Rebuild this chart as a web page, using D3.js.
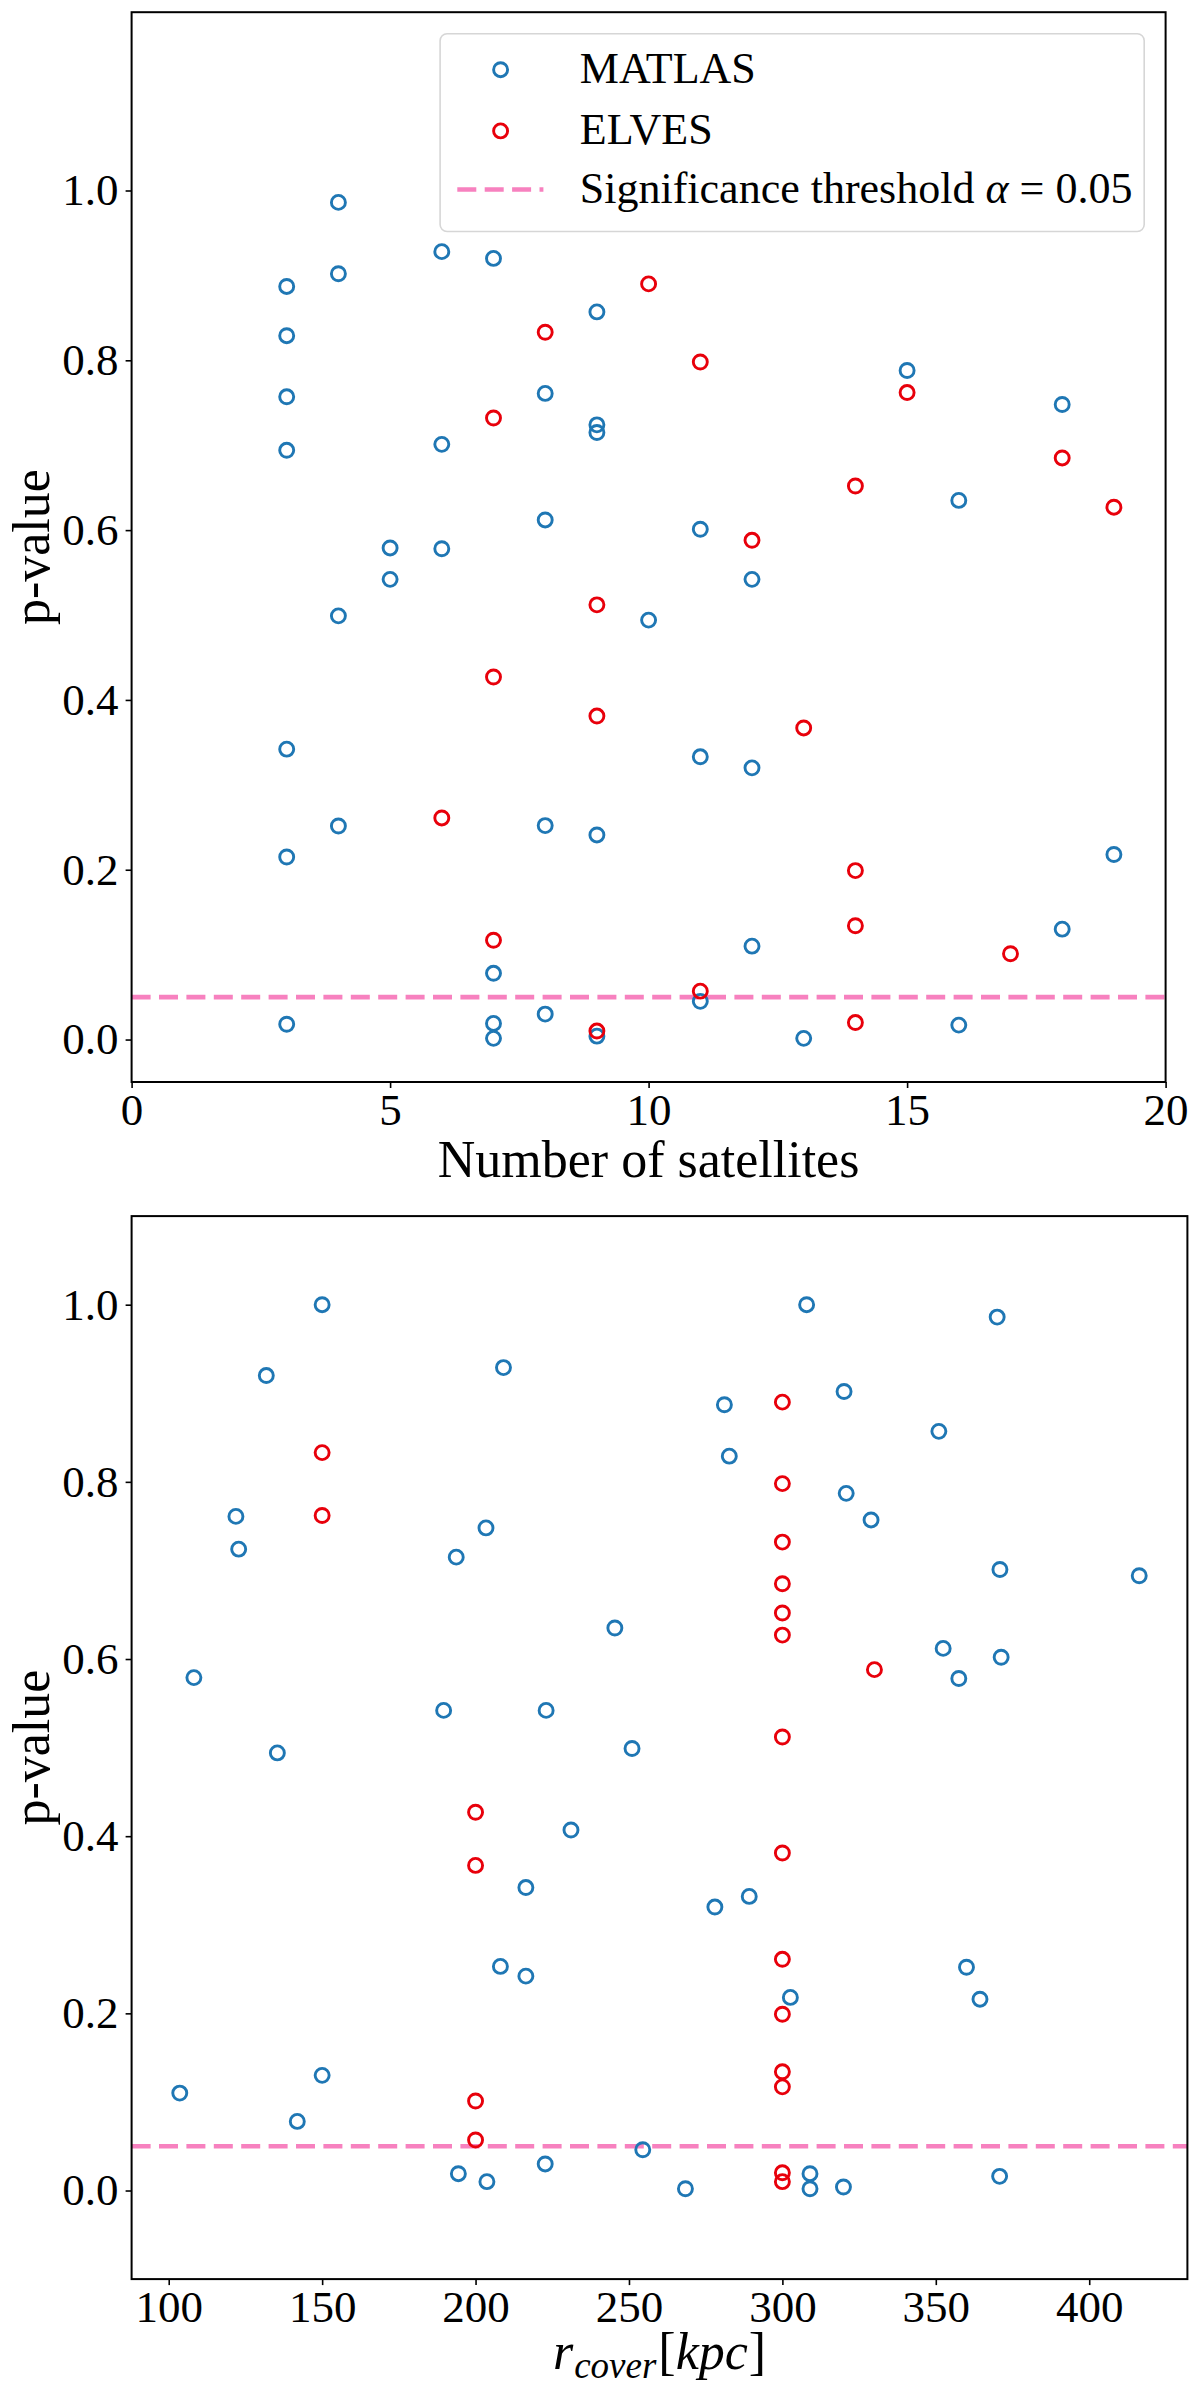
<!DOCTYPE html>
<html>
<head>
<meta charset="utf-8">
<script src="https://cdn.jsdelivr.net/npm/d3@7"></script>
<style>
  html, body { margin: 0; padding: 0; background: #fff; }
  svg { display: block; }
  text { font-family: "Liberation Serif", "Times New Roman", serif; fill: #000; }
</style>
</head>
<body>
<svg id="chart" width="1200" height="2398"></svg>
<script>
// ---------- Data ----------
// Top panel: number of satellites vs p-value
const topMatlasN = [3,3,3,3,3,3,3, 4,4,4,4, 5,5, 6,6,6, 7,7,7,7, 8,8,8,8, 9,9,9,9,9, 10, 11,11,11, 12,12,12, 13, 15, 16,16, 18,18, 19];
const topMatlasP = [0.887,0.829,0.757,0.694,0.342,0.215,0.018, 0.986,0.902,0.499,0.2515, 0.579,0.542, 0.928,0.701,0.578, 0.920,0.078,0.019,0.0014, 0.761,0.612,0.252,0.030, 0.857,0.724,0.715,0.241,0.004, 0.494, 0.601,0.333,0.045, 0.542,0.320,0.110, 0.0014, 0.788, 0.635,0.017, 0.748,0.130, 0.218];
const topElvesN = [6, 7,7,7, 8, 9,9,9, 10, 11,11, 12, 13, 14,14,14,14, 15, 17, 18, 19];
const topElvesP = [0.261, 0.732,0.427,0.117, 0.833, 0.512,0.381,0.010, 0.890, 0.798,0.057, 0.588, 0.367, 0.652,0.199,0.134,0.020, 0.762, 0.101, 0.685, 0.627];

// Bottom panel: r_cover [kpc] vs p-value
const botMatlasR = [150,131.8,121.9,122.8,209.1,203.4,193.7,108.2,189.6,223.0,135.4,
  307.9,370.0,281.1,320.1,351.0,282.7,320.8,328.9,370.9,416.3,245.4,352.4,371.3,357.5,251.0,
  231.1,216.4,208.1,216.4,150.0,103.6,141.9,222.7,194.4,203.7,
  278.0,289.2,360.0,302.6,364.4,254.5,309.0,309.0,268.4,319.9,370.8];
const botMatlasP = [1.000,0.920,0.761,0.724,0.929,0.748,0.715,0.579,0.542,0.542,0.494,
  1.000,0.986,0.887,0.902,0.857,0.829,0.787,0.757,0.701,0.694,0.635,0.612,0.602,0.578,0.499,
  0.407,0.342,0.253,0.242,0.130,0.110,0.078,0.030,0.019,0.010,
  0.320,0.332,0.252,0.218,0.216,0.046,0.019,0.002,0.002,0.004,0.016];
const botElvesR = [150,150, 200,200,200,200, 300,300,300,300,300,300,300,300,300,300,300,300,300,300, 330];
const botElvesP = [0.833,0.762, 0.427,0.367,0.101,0.057, 0.890,0.798,0.732,0.685,0.652,0.627,0.512,0.381,0.261,0.199,0.134,0.117,0.020,0.010, 0.588];

const threshold = 0.05;
const yTicks = [0.0, 0.2, 0.4, 0.6, 0.8, 1.0];
const topXTicks = [0, 5, 10, 15, 20];
const botXTicks = [100, 150, 200, 250, 300, 350, 400];
const legendLabels = ["MATLAS", "ELVES"];

// ---------- Styles ----------
const BLUE = "#1f77b4", RED = "#e8000b", PINK = "#f781bf";
const TICK_FONT = 45, LABEL_FONT = 52, LEGEND_FONT = 44;
const MARKER_R = 7, MARKER_W = 2.9;

const svg = d3.select("#chart");

function panel(cfg) {
  const g = svg.append("g");
  const x = d3.scaleLinear().domain(cfg.xDomain).range([cfg.left, cfg.right]);
  const y = d3.scaleLinear().domain(cfg.yDomain).range([cfg.bottom, cfg.top]);

  // threshold line
  g.append("line")
    .attr("x1", cfg.left).attr("x2", cfg.right)
    .attr("y1", y(threshold)).attr("y2", y(threshold))
    .attr("stroke", PINK).attr("stroke-width", 4.6)
    .attr("stroke-dasharray", "19,8.4");

  // points
  const drawPts = (xs, ys, color) => {
    g.append("g").selectAll("circle")
      .data(xs.map((d, i) => [d, ys[i]]))
      .join("circle")
      .attr("cx", d => x(d[0])).attr("cy", d => y(d[1]))
      .attr("r", MARKER_R).attr("fill", "none")
      .attr("stroke", color).attr("stroke-width", MARKER_W);
  };
  drawPts(cfg.mX, cfg.mY, BLUE);
  drawPts(cfg.eX, cfg.eY, RED);

  // axes
  const xAxis = g.append("g").attr("transform", `translate(0,${cfg.bottom})`)
    .call(d3.axisBottom(x).tickValues(cfg.xTicks).tickSize(6).tickPadding(5).tickFormat(d3.format("d")));
  const yAxis = g.append("g").attr("transform", `translate(${cfg.left},0)`)
    .call(d3.axisLeft(y).tickValues(yTicks).tickSize(6).tickPadding(7).tickFormat(d3.format(".1f")));
  [xAxis, yAxis].forEach(a => {
    a.select(".domain").remove();
    a.selectAll(".tick line").attr("stroke", "#000").attr("stroke-width", 1.6);
    a.selectAll(".tick text").attr("font-size", TICK_FONT)
      .attr("font-family", "Liberation Serif").attr("fill", "#000");
  });

  // frame
  g.append("rect")
    .attr("x", cfg.left).attr("y", cfg.top)
    .attr("width", cfg.right - cfg.left).attr("height", cfg.bottom - cfg.top)
    .attr("fill", "none").attr("stroke", "#000").attr("stroke-width", 2);

  // y label
  g.append("text")
    .attr("transform", `translate(49,${(cfg.top + cfg.bottom) / 2}) rotate(-90)`)
    .attr("text-anchor", "middle").attr("font-size", LABEL_FONT)
    .text("p-value");

  return { g, x, y };
}

// ---------- Top panel ----------
const topP = panel({
  left: 131.6, right: 1165.6, top: 12.2, bottom: 1082,
  xDomain: [0, 20], yDomain: [-0.05, 1.21],
  xTicks: topXTicks,
  mX: topMatlasN, mY: topMatlasP, eX: topElvesN, eY: topElvesP
});
topP.g.append("text")
  .attr("x", (131.6 + 1165.6) / 2).attr("y", 1177)
  .attr("text-anchor", "middle").attr("font-size", LABEL_FONT)
  .text("Number of satellites");

// legend
const lg = topP.g.append("g");
lg.append("rect")
  .attr("x", 440.1).attr("y", 33.7).attr("width", 1144.2 - 440.1).attr("height", 231.5 - 33.7)
  .attr("rx", 7).attr("fill", "#fff").attr("fill-opacity", 0.8)
  .attr("stroke", "#d6d6d6").attr("stroke-width", 1.6);
const rowY = [69.7, 130.9, 189.5];
[BLUE, RED].forEach((c, i) => {
  lg.append("circle").attr("cx", 500.6).attr("cy", rowY[i]).attr("r", MARKER_R)
    .attr("fill", "none").attr("stroke", c).attr("stroke-width", MARKER_W);
  lg.append("text").attr("x", 579.8).attr("y", rowY[i] + 13)
    .attr("font-size", LEGEND_FONT).text(legendLabels[i]);
});
lg.append("line").attr("x1", 457.3).attr("x2", 543.4).attr("y1", rowY[2]).attr("y2", rowY[2])
  .attr("stroke", PINK).attr("stroke-width", 4.6).attr("stroke-dasharray", "19,8.4");
const sigT = lg.append("text").attr("x", 579.8).attr("y", rowY[2] + 13).attr("font-size", LEGEND_FONT);
sigT.append("tspan").text("Significance threshold ");
sigT.append("tspan").attr("font-style", "italic").text("α");
sigT.append("tspan").text(" = 0.05");

// ---------- Bottom panel ----------
const botP = panel({
  left: 131.6, right: 1187.4, top: 1216.1, bottom: 2279.1,
  xDomain: [87.9, 432], yDomain: [-0.1, 1.1],
  xTicks: botXTicks,
  mX: botMatlasR, mY: botMatlasP, eX: botElvesR, eY: botElvesP
});
const xl = botP.g.append("text")
  .attr("x", (131.6 + 1187.4) / 2).attr("y", 2369)
  .attr("text-anchor", "middle").attr("font-size", LABEL_FONT);
xl.append("tspan").attr("font-style", "italic").text("r");
xl.append("tspan").attr("font-style", "italic").attr("font-size", 37).attr("dx", 1).attr("dy", 9).text("cover");
xl.append("tspan").attr("dx", 2).attr("dy", -9).text("[");
xl.append("tspan").attr("font-style", "italic").text("kpc");
xl.append("tspan").attr("dx", 1).text("]");
</script>
</body>
</html>
